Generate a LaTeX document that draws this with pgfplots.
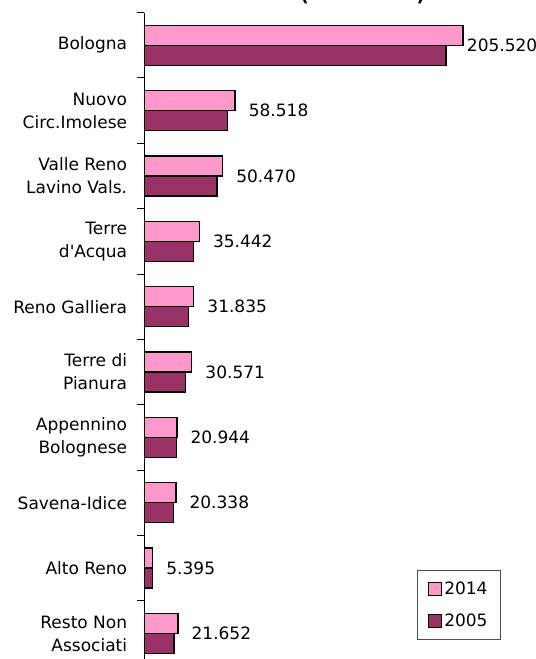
\documentclass[border=0pt]{standalone}
\usepackage{pgfplots}
\pgfplotsset{compat=1.18}
\usepackage{fontspec}
\setmainfont{DejaVu Sans}[Ligatures=TeXOff]
\definecolor{pinkbar}{HTML}{FF99CC}
\definecolor{plumbar}{HTML}{993366}
\newcommand{\lblfont}{\fontsize{17bp}{23bp}\selectfont}
\pgfplotsset{sqleg/.style={legend image code/.code={\draw[##1, line width=1.2bp] (0bp,-6.5bp) rectangle (13bp,6.5bp);}}}
\begin{document}
\begin{tikzpicture}
\begin{axis}[
  x=1.5517bp, y=65.35bp, y dir=reverse,
  xmin=0, xmax=229, ymin=-0.5, ymax=9.5,
  xbar, bar width=20bp,
  hide x axis,
  axis y line*=left,
  axis line style={line width=1.2bp, black, -},
  ytick={0,...,9},
  yticklabels={Bologna,{Nuovo\\Circ.Imolese},{Valle Reno\\Lavino Vals.},{Terre\\d'Acqua},Reno Galliera,{Terre di\\Pianura},{Appennino\\Bolognese},Savena-Idice,Alto Reno,{Resto Non\\Associati}},
  minor ytick={-0.5,0.5,...,9.5},
  major tick length=0pt, minor tick length=7bp, tick align=outside,
  minor tick style={line width=1bp, black},
  yticklabel style={align=right, font=\lblfont, inner sep=0pt, xshift=-17bp},
  clip=false,
  legend style={at={(axis cs:229.9,8.03)}, anchor=north east, draw=black!70, line width=1bp, font=\lblfont, inner xsep=11bp, inner ysep=9.5bp, row sep=14bp, cells={anchor=west}},
]
\coordinate (TL) at (axis cs:0,-0.5);
\addplot[fill=pinkbar, draw=black, line width=1.5bp, bar shift=10bp, sqleg,
  nodes near coords, point meta=explicit symbolic,
  every node near coord/.style={anchor=west, inner sep=0pt, xshift=13bp, font=\lblfont, black}]
  coordinates {
  (205.520,0) [\kern-10bp 205.520]
  (58.518,1) [58.518]
  (50.470,2) [50.470]
  (35.442,3) [35.442]
  (31.835,4) [31.835]
  (30.571,5) [30.571]
  (20.944,6) [20.944]
  (20.338,7) [20.338]
  (5.395,8) [5.395]
  (21.652,9) [21.652]
  };
\addplot[fill=plumbar, draw=black, line width=1.5bp, bar shift=-10bp, sqleg]
  coordinates {
  (194.4,0)
  (53.5,1)
  (46.9,2)
  (31.6,3)
  (28.6,4)
  (26.4,5)
  (20.6,6)
  (18.7,7)
  (5.2,8)
  (19.3,9)
  };
\legend{2014,2005}
\node[anchor=base east, inner sep=0pt, font=\bfseries\fontsize{18bp}{20bp}\selectfont] at (axis cs:180.9,-0.93) {\raisebox{-17bp}{(}2005-2014\raisebox{-17bp}{)}};
\end{axis}
\pgfresetboundingbox
\useasboundingbox ([shift={(-144.3bp,12.6bp)}]TL) rectangle ([shift={(391.7bp,-646.4bp)}]TL);
\end{tikzpicture}
\end{document}
